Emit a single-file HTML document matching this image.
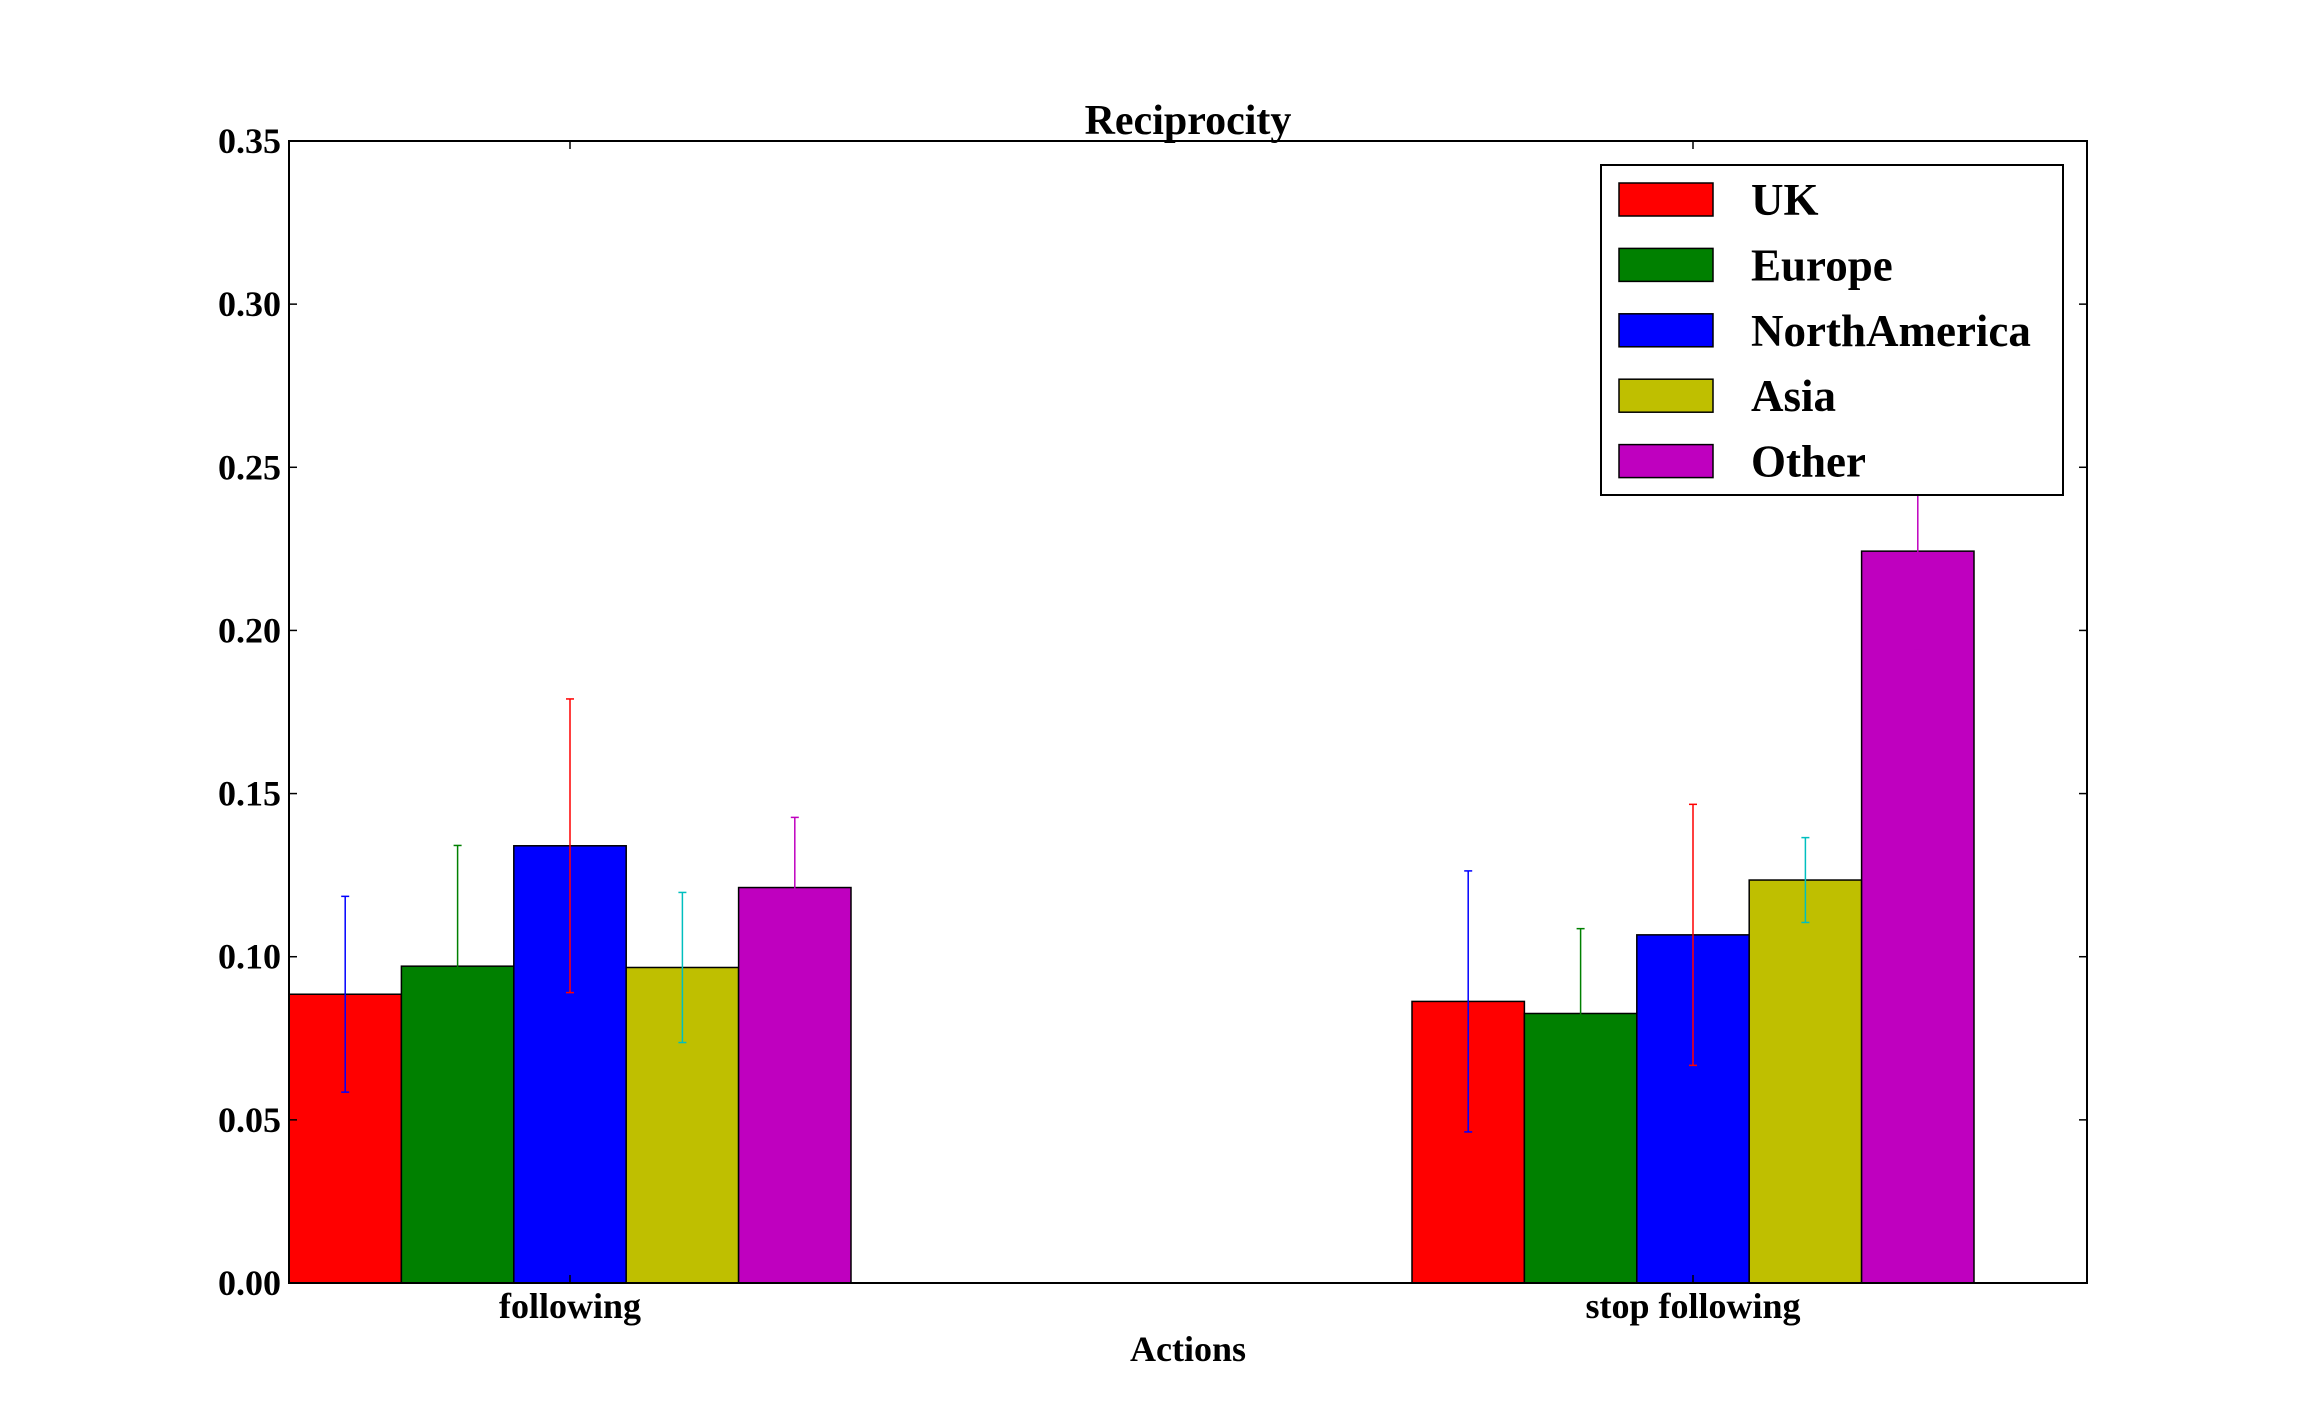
<!DOCTYPE html>
<html><head><meta charset="utf-8"><style>
html,body{margin:0;padding:0;background:#fff;}
svg{display:block;font-family:"Liberation Serif",serif;font-weight:bold;}
</style></head><body>
<svg id="chart" width="2318" height="1427" viewBox="0 0 2318 1427">
<g id="plot"></g>
</svg>
<script>
const categories = ["following", "stop following"];
const seriesNames = ["UK", "Europe", "NorthAmerica", "Asia", "Other"];
const ukValues = [0.0885, 0.0863];
const europeValues = [0.0971, 0.0826];
const northAmericaValues = [0.134, 0.1067];
const asiaValues = [0.0967, 0.1235];
const otherValues = [0.1212, 0.2243];
const ukErr = [0.030, 0.040];
const europeErr = [0.037, 0.026];
const northAmericaErr = [0.045, 0.040];
const asiaErr = [0.023, 0.013];
const otherErr = [0.0215, 0.030];
const yTicks = ["0.00","0.05","0.10","0.15","0.20","0.25","0.30","0.35"];

const values = [ukValues, europeValues, northAmericaValues, asiaValues, otherValues];
const errs = [ukErr, europeErr, northAmericaErr, asiaErr, otherErr];
const fills = ["#ff0000","#008000","#0000ff","#bfbf00","#bf00bf"];
const errColors = ["#0000ff","#008000","#ff0000","#00bfbf","#bf00bf"];
const L=289,R=2087,T=141,B=1283,YMAX=0.35;
const NS="http://www.w3.org/2000/svg";
const svg=document.getElementById('chart');
const g=document.getElementById('plot');
function y(v){return B-(v/YMAX)*(B-T);}
const groupStep=1123, firstCenter=570, barW=112.4;
function xc(i){return firstCenter+i*groupStep;}
function mk(tag,attrs,parent){const e=document.createElementNS(NS,tag);for(const k in attrs)e.setAttribute(k,attrs[k]);(parent||g).appendChild(e);return e;}

for(let s=0;s<values.length;s++){
  for(let i=0;i<categories.length;i++){
    const v=values[s][i];
    const x0=xc(i)-2.5*barW+s*barW;
    const r=mk('rect',{x:x0,y:y(v),width:barW,height:B-y(v),fill:fills[s],stroke:'#000','stroke-width':1.5});
    
    
  }
}
for(let s=0;s<values.length;s++){
  for(let i=0;i<categories.length;i++){
    const v=values[s][i],e=errs[s][i];
    const cx=xc(i)-2.5*barW+(s+0.5)*barW;
    const eg=mk('g',{stroke:errColors[s],'stroke-width':1.5});
    
    
    mk('line',{x1:cx,x2:cx,y1:y(v-e),y2:y(v+e)},eg);
    mk('line',{x1:cx-4,x2:cx+4,y1:y(v-e),y2:y(v-e)},eg);
    mk('line',{x1:cx-4,x2:cx+4,y1:y(v+e),y2:y(v+e)},eg);
  }
}
const fr=mk('rect',{x:L,y:T,width:R-L,height:B-T,fill:'none',stroke:'#000','stroke-width':2});


for(let k=0;k<yTicks.length;k++){
  const v=parseFloat(yTicks[k]);const yy=y(v);
  mk('line',{x1:L,x2:L+8,y1:yy,y2:yy,stroke:'#000','stroke-width':1.5});
  mk('line',{x1:R-8,x2:R,y1:yy,y2:yy,stroke:'#000','stroke-width':1.5});
  const t=mk('text',{x:L-8,y:yy+12,'text-anchor':'end','font-size':36});
  t.textContent=yTicks[k];
  
  
}
for(let i=0;i<categories.length;i++){
  const cx=xc(i);
  mk('line',{x1:cx,x2:cx,y1:B,y2:B-8,stroke:'#000','stroke-width':1.5});
  mk('line',{x1:cx,x2:cx,y1:T,y2:T+8,stroke:'#000','stroke-width':1.5});
  const t=mk('text',{x:cx,y:B+35,'text-anchor':'middle','font-size':36});
  t.textContent=categories[i];
  
  
}
const title=mk('text',{x:(L+R)/2,y:134,'text-anchor':'middle','font-size':42});
title.textContent='Reciprocity';


const xl=mk('text',{x:(L+R)/2,y:1361,'text-anchor':'middle','font-size':36});
xl.textContent='Actions';


const lg=mk('g',{});


mk('rect',{x:1601,y:165,width:462,height:330,fill:'#fff',stroke:'#000','stroke-width':2},lg);
for(let s=0;s<seriesNames.length;s++){
  const yy=183+s*65.4;
  const sw=mk('rect',{x:1619,y:yy,width:94,height:33,fill:fills[s],stroke:'#000','stroke-width':1.5},lg);
  
  
  const t=mk('text',{x:1751,y:yy+32,'font-size':45},lg);
  t.textContent=seriesNames[s];
  
  
}
</script>
</body></html>
